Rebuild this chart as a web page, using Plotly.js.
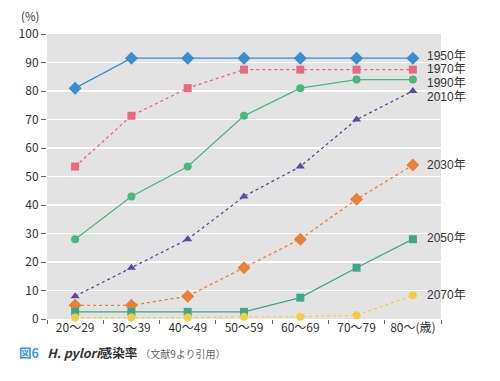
<!DOCTYPE html>
<html>
<head>
<meta charset="utf-8">
<script src="https://cdn.plot.ly/plotly-3.0.1.min.js"></script>
<style>html,body{margin:0;padding:0;background:#fff;}#chart{width:500px;height:381px;}</style>
</head>
<body>
<div id="chart"></div>
<script>
const categories = ["20～29", "30～39", "40～49", "50～59", "60～69", "70～79", "80～(歳)"];
const seriesNames = ["1950年", "1970年", "1990年", "2010年", "2030年", "2050年", "2070年"];
const v1950 = [81, 91.5, 91.5, 91.5, 91.5, 91.5, 91.5];
const v1970 = [53.5, 71.3, 81, 87.5, 87.5, 87.5, 87.5];
const v1990 = [28, 43, 53.5, 71.3, 81, 84, 84];
const v2010 = [8, 18, 28, 43, 53.5, 70, 80];
const v2030 = [4.8, 4.8, 8, 18, 28, 42, 54];
const v2050 = [2.5, 2.5, 2.5, 2.5, 7.5, 18, 28];
const v2070 = [0.5, 0.5, 0.5, 0.8, 0.8, 1.3, 8.3];
const labelY = [92.2, 87.6, 82.7, 77.8, 53.9, 28.4, 8.5];

const values = [v1950, v1970, v1990, v2010, v2030, v2050, v2070];
const colors = ["#3a8fd2", "#e8687f", "#48b87e", "#5b4b9c", "#e8813a", "#3ea68b", "#f5cd42"];
const dashes = ["solid", "dot", "solid", "dot", "dot", "solid", "dot"];
const symbols = ["diamond", "square", "circle", "triangle-up", "diamond", "square", "circle"];
const sizes = [10, 8, 8, 8, 10, 8, 8];

const FONT = '"Noto Sans CJK JP", "Noto Sans", sans-serif';
const LABEL_FONT = '"Liberation Sans", "Noto Sans CJK JP", sans-serif';

const traces = values.map((v, i) => ({
  type: "scatter",
  mode: "lines+markers",
  x: categories,
  y: v,
  name: seriesNames[i],
  line: {color: colors[i], width: 1.3, dash: dashes[i]},
  marker: {color: colors[i], symbol: symbols[i], size: sizes[i]},
  cliponaxis: false,
  showlegend: false
}));

const lastCat = categories[categories.length - 1];
const annotations = seriesNames.map((n, i) => ({
  xref: "x", yref: "y", x: lastCat, y: labelY[i],
  text: n, showarrow: false, xanchor: "left", yanchor: "middle",
  xshift: 12,
  font: {family: LABEL_FONT, size: 12, color: "#333"}
}));

annotations.push({
  xref: "paper", yref: "paper", x: -0.07, y: 1.064,
  text: "(%)", showarrow: false, xanchor: "left", yanchor: "middle",
  font: {family: FONT, size: 11.5, color: "#333"}
});
annotations.push({
  xref: "paper", yref: "paper", x: -0.077, y: -0.118,
  text: '<span style="color:#3a9ad9"><b>図6</b></span>   <b><i>H. pylori</i>感染率</b> <span style="font-size:10px;color:#666">（文献9より引用）</span>',
  showarrow: false, xanchor: "left", yanchor: "middle",
  font: {family: FONT, size: 12.5, color: "#333"}
});

const layout = {
  width: 500, height: 381,
  margin: {l: 47, r: 59, t: 34, b: 62},
  paper_bgcolor: "#ffffff",
  plot_bgcolor: "#e3e3e3",
  font: {family: FONT, size: 12, color: "#333"},
  xaxis: {
    type: "category",
    range: [-0.5, 6.5],
    tickson: "boundaries",
    tickangle: 0,
    ticks: "outside", ticklen: 4, tickcolor: "#666", tickwidth: 1,
    showgrid: false, showline: false, zeroline: false,
    tickfont: {family: FONT, size: 12, color: "#333"}
  },
  yaxis: {
    range: [0, 100], dtick: 10, tick0: 0,
    ticks: "outside", ticklen: 5, tickcolor: "#666", tickwidth: 1,
    showgrid: true, gridcolor: "#ffffff", gridwidth: 1.5,
    zeroline: false, showline: false,
    tickfont: {family: FONT, size: 12, color: "#333"}
  },
  annotations: annotations
};

Plotly.newPlot("chart", traces, layout, {displayModeBar: false, staticPlot: true});
</script>
</body>
</html>
